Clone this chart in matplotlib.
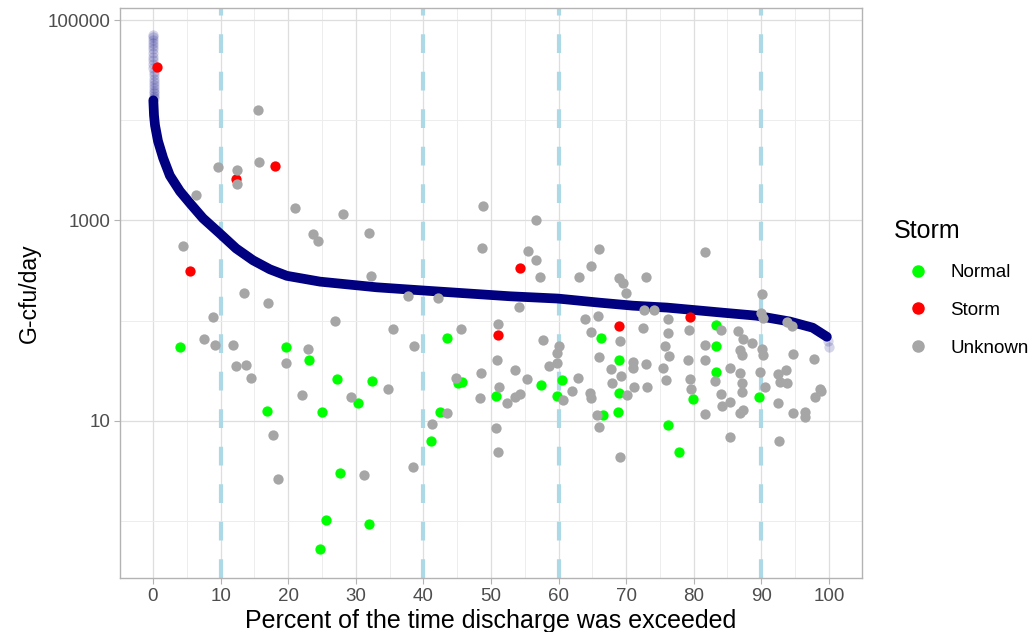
import numpy as np
import matplotlib.pyplot as plt
from matplotlib.ticker import FixedLocator
from matplotlib.lines import Line2D

plt.rcParams['font.family'] = ['Liberation Sans', 'DejaVu Sans']

# flow duration curve (percent of time exceeded vs load)
fdc_pct = [0.05, 0.15, 0.3, 0.74, 1.5, 2.5, 4.0, 5.6, 7.4, 9.9, 12.3, 14.8, 17.3, 19.8,
           24.7, 33.1, 39.9, 52.8, 59.9, 66.1, 71.0, 76.0, 80.9, 84.3, 89.3, 94.2, 97.6, 99.7]
fdc_load = [15800, 11200, 8900, 6200, 4200, 2800, 1950, 1450, 1050, 740, 525, 400, 325, 280,
            245, 215, 200, 175, 166, 151, 141, 135, 126, 120, 112, 98, 85, 69]
# sparse points at both ends of the curve (drawn faded)
fdc_end_pct = [0.0, 0.0, 0.0, 0.0, 0.02, 0.02, 0.03, 0.04, 0.05, 0.06, 0.07, 0.08, 0.09,
               0.1, 0.1, 0.11, 0.12, 0.13, 0.14, 0.15, 0.15, 99.9, 100.0]
fdc_end_load = [71000, 67000, 63000, 59000, 55000, 51000, 47000, 43000, 40000, 36000, 33000,
                30000, 28000, 26000, 24000, 22500, 21000, 19500, 18500, 17500, 16600, 62, 55]

normal_pct = [4.0, 19.7, 23.1, 27.2, 32.4, 43.5, 45.1, 45.7, 41.1, 42.5, 50.7, 57.4, 60.5,
              59.8, 66.3, 66.6, 68.8, 68.9, 68.9, 76.2, 77.8, 79.9, 83.3, 83.3, 83.3, 89.6,
              30.3, 25.0, 16.9, 27.7, 25.6, 32.0, 24.7]
normal_load = [55, 55, 40, 26, 25, 67, 24, 24.4, 6.3, 12.2, 17.7, 22.8, 25.5,
               17.7, 67, 11.4, 12.2, 40, 18.9, 9.1, 4.9, 16.5, 90, 56, 31, 17.3,
               15.1, 12.2, 12.5, 3.0, 1.02, 0.93, 0.53]

storm_pct = [0.6, 5.5, 12.3, 18.0, 54.3, 51.0, 68.9, 79.4]
storm_load = [34000, 310, 2600, 3500, 335, 72, 88, 109]

unknown_pct = [15.5, 9.6, 12.4, 12.4, 15.7, 6.4, 21.0, 4.4, 23.7, 24.4, 13.5, 17.0, 8.9, 7.5,
               9.2, 11.8, 22.9, 19.7, 12.3, 13.8, 14.5, 28.1, 32.0, 48.8, 48.7, 32.2, 37.7,
               42.2, 26.9, 35.5, 38.6, 45.6, 51.0, 50.9, 48.5, 44.8, 34.8, 51.2, 29.3, 43.5,
               41.3, 38.5, 31.2, 48.4, 52.4, 50.7, 51.0, 22.0, 17.8, 18.5, 56.7, 55.5, 56.7,
               57.2, 66.0, 64.8, 63.0, 68.9, 69.5, 70.0, 72.9, 54.1, 72.6, 74.1, 63.9, 65.8,
               64.8, 72.5, 76.2, 76.2, 79.3, 57.7, 60.1, 59.8, 69.1, 75.7, 76.3, 66.0, 59.8,
               58.6, 53.6, 71.0, 72.9, 71.0, 67.8, 62.9, 69.2, 75.4, 75.9, 55.3, 67.9, 71.2,
               79.4, 79.1, 79.6, 53.6, 54.3, 62.0, 60.7, 64.6, 64.8, 70.1, 73.1, 65.7, 66.0,
               69.1, 81.7, 90.1, 89.9, 90.2, 93.8, 94.5, 86.5, 84.0, 81.7, 87.3, 88.6, 81.7,
               86.8, 87.1, 90.1, 90.2, 94.7, 97.8, 85.4, 86.8, 89.8, 92.5, 93.6, 83.1, 87.1,
               92.8, 93.8, 90.5, 98.7, 87.1, 84.1, 85.4, 84.2, 81.7, 86.8, 87.3, 92.5, 94.7,
               96.4, 96.4, 97.9, 98.8, 85.4, 92.6]
unknown_load = [12600, 3410, 3190, 2310, 3830, 1790, 1330, 556, 731, 622, 188, 150, 109, 65,
                57, 57, 52, 38, 35, 36, 27, 1160, 748, 1390, 531, 279, 176,
                168, 99, 82, 56, 82, 92, 40, 30, 27, 21, 22, 17.3, 12.0,
                9.3, 3.5, 2.9, 16.9, 15.1, 8.5, 4.9, 18.1, 7.2, 2.6, 1010, 495, 403,
                272, 519, 351, 272, 266, 237, 188, 272, 137, 128, 128, 104, 111,
                77, 84, 104, 75, 81, 64, 56, 48, 63, 56, 44, 43, 38,
                35, 32, 39, 37, 34, 33, 27, 28, 34, 25.5, 26, 24, 22,
                26, 40, 21, 17.3, 18.5, 19.8, 16.1, 18.9, 16.9, 18.1, 22, 11.4, 8.7,
                4.4, 484, 184, 119, 106, 97, 88, 79, 81, 57, 65, 60, 40,
                51, 45, 52, 45, 46, 41, 34, 30, 31, 29, 32, 25, 24,
                24.4, 24, 22, 21, 19.4, 18.5, 15.4, 14.1, 11.7, 12.0, 12.8, 15.1, 12.0,
                12.2, 10.9, 17.3, 20, 6.9, 6.3]

cutoffs = [10, 40, 60, 90]
y_breaks = [10, 1000, 100000]
y_minor = [1, 100, 10000]

fig = plt.figure(figsize=(10.35, 6.32), dpi=100)
ax = fig.add_axes([120/1035, 1 - 578/632, 742/1035, 570/632])

for c in cutoffs:
    ax.axvline(c, color='#ADD8E6', lw=3, linestyle=(0, (4.5, 4.5)), zorder=1)

ax.plot(fdc_pct, fdc_load, color='#000080', lw=7, solid_capstyle='round', zorder=2)
ax.scatter(fdc_end_pct, fdc_end_load, s=55, color='#000080', alpha=0.16, lw=0, zorder=2)

ax.scatter(normal_pct, normal_load, s=55, color='#00FF00', lw=0, zorder=3)
ax.scatter(storm_pct, storm_load, s=55, color='#FF0000', lw=0, zorder=3)
ax.scatter(unknown_pct, unknown_load, s=55, color='#A6A6A6', lw=0, zorder=3)

ax.set_yscale('log')
ax.set_xlim(-4.88, 104.9)
ax.set_ylim(0.27, 131800)
ax.set_xticks(np.arange(0, 101, 10))
ax.xaxis.set_minor_locator(FixedLocator(np.arange(5, 100, 10)))
ax.yaxis.set_major_locator(FixedLocator(y_breaks))
ax.yaxis.set_minor_locator(FixedLocator(y_minor))
ax.set_yticklabels([str(b) for b in y_breaks])
ax.yaxis.set_minor_formatter(plt.NullFormatter())

ax.set_axisbelow(True)
ax.grid(which='major', color='#DEDEDE', lw=0.9)
ax.grid(which='minor', color='#EDEDED', lw=0.7)
for s in ax.spines.values():
    s.set_color('#B3B3B3')
    s.set_linewidth(1)
ax.tick_params(which='major', length=4, width=0.8, color='#B3B3B3',
               labelsize=13.5, labelcolor='#4D4D4D', pad=3)
ax.tick_params(which='minor', length=0)

ax.set_xlabel('Percent of the time discharge was exceeded', fontsize=18, labelpad=3)
ax.set_ylabel('G-cfu/day', fontsize=16.5, labelpad=5)

handles = [Line2D([], [], marker='o', ls='', color=c, markersize=8)
           for c in ['#00FF00', '#FF0000', '#A6A6A6']]
leg = fig.legend(handles, ['Normal', 'Storm', 'Unknown'], title='Storm',
                 loc='upper left', bbox_to_anchor=(884/1035, 1 - 210/632),
                 frameon=False, fontsize=13.5, title_fontsize=18,
                 handlelength=2.6, handletextpad=0.45, labelspacing=1.1,
                 borderpad=0, alignment='left')

fig.savefig('out.png', dpi=100)
